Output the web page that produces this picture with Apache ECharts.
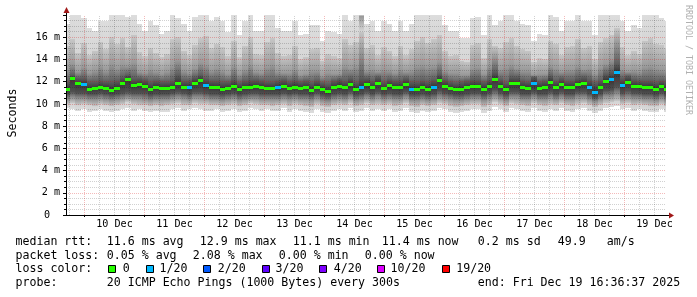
<!DOCTYPE html>
<html><head><meta charset="utf-8">
<script src="https://cdn.jsdelivr.net/npm/echarts@6/dist/echarts.min.js"></script>
<style>html,body{margin:0;padding:0;background:#fff}#c{width:697px;height:297px}</style>
</head><body><div id="c"></div>
<script>
// ---- time axis (hours since Dec 9 00:00) ----
const startHour = 16.61;          // Fri Dec 9 16:36:37
const endHour = 256.61;           // Fri Dec 19 16:36:37
const firstSampleHour = 17.05;
const stepHours = 2.2222;
const dayHours = [24, 48, 72, 96, 120, 144, 168, 192, 216, 240];
const dayLabelHours = [36, 60, 84, 108, 132, 156, 180, 204, 228, 252];
const dayLabels = ['10 Dec','11 Dec','12 Dec','13 Dec','14 Dec','15 Dec','16 Dec','17 Dec','18 Dec','19 Dec'];
const yMax = 18;

// ---- median rtt (ms) ----
const median = [11.35,12.3,11.85,11.8,11.35,11.4,11.5,11.45,11.25,11.45,
11.85,12.2,11.7,11.8,11.65,11.3,11.55,11.4,11.45,11.55,
11.9,11.55,11.5,11.9,12.15,11.7,11.55,11.5,11.35,11.4,
11.6,11.3,11.5,11.55,11.6,11.55,11.45,11.4,11.5,11.6,
11.45,11.55,11.45,11.5,11.25,11.55,11.35,11.15,11.5,11.65,
11.5,11.8,11.35,11.55,11.8,11.5,11.9,11.4,11.7,11.55,
11.5,11.8,11.3,11.35,11.55,11.35,11.55,12.15,11.65,11.4,
11.3,11.35,11.5,11.6,11.6,11.35,11.65,12.25,11.65,11.3,
11.9,11.85,11.5,11.45,11.9,11.45,11.55,12.0,11.55,11.8,
11.55,11.55,11.8,11.85,11.55,11.1,11.5,12.1,12.2,12.9,
11.7,12.0,11.65,11.6,11.5,11.55,11.35,11.6,11.35];
// ---- lost pings out of 20 ----
const loss = [0,0,0,1,0,0,0,0,0,0, 0,0,0,0,0,0,0,0,0,0, 0,0,1,0,0,1,0,0,0,0,
0,0,0,0,0,0,0,0,1,0, 0,0,0,0,0,0,0,0,0,0, 0,0,0,1,0,0,0,0,0,0,
0,0,1,0,0,0,1,0,0,0, 0,0,0,0,0,0,0,0,0,0, 0,0,0,0,1,0,0,0,0,0,
0,0,0,0,1,1,0,0,1,1, 1,0,0,0,0,0,0,0,0];
// ---- smoke: ping distribution edges (ms) ----
const maxRtt = [17.2,18,18,17.7,16.8,16.6,17.5,17.5,18,18,
18,17.8,18,17.2,16.6,17.5,17.1,16.3,16.6,18,
17.7,17.2,16.6,17.8,18,18,17.5,17.8,17.5,16.5,
18,16.2,17.5,18,16.6,16.6,18,18,16.8,16.6,
16.6,17.5,16.2,16.3,17.1,17.1,15.7,16.6,16.5,16.3,
18,17.5,18,18,17.2,17.5,16.6,17.5,17.2,16.6,
17.5,16.6,17.2,18,18,18,18,18,17.1,16.6,
16.6,15.9,15.9,17.7,17.8,16.2,18,17.1,17.5,18,
18,17.5,17.2,17.1,15.7,16.3,16.2,18,17.8,16.6,
17.5,17.5,18,17.5,17.5,16.2,18,18,18,18,
17.5,16.6,17.1,16.8,18,18,18,17.7,17.5];
const hi2 = [15.2,15.8,14.6,15.5,14.4,14.8,15.6,14.9,16.0,15.4,
15.9,15.1,16.2,14.7,14.3,15.0,14.6,14.2,14.5,15.8,
16.0,14.8,14.4,15.3,15.9,16.1,15.0,15.4,15.1,14.3,
15.7,14.2,15.2,16.0,14.5,14.4,15.6,15.9,14.6,14.3,
14.4,15.2,14.0,14.2,14.9,15.0,13.9,14.5,14.3,14.1,
15.8,15.3,15.6,16.5,15.0,15.3,14.4,15.1,14.8,14.3,
15.2,14.4,14.9,15.7,16.0,15.5,15.8,16.2,14.8,14.3,
14.4,13.9,13.8,15.3,15.5,14.1,15.8,15.2,15.0,15.6,
15.9,15.2,14.9,14.8,13.8,14.1,14.0,15.7,15.4,14.4,
15.1,15.2,15.8,15.0,15.2,14.0,15.6,15.9,16.2,16.8,
15.1,14.4,14.8,14.5,15.7,15.9,15.4,15.3,15.0];
const hi3 = [13.1,13.6,12.9,13.3,12.8,13.0,13.4,13.0,13.6,13.2,
13.5,13.4,13.7,12.9,12.8,13.1,12.9,12.7,12.9,13.4,
13.9,13.0,12.8,13.2,13.7,13.5,13.0,13.2,13.0,12.7,
13.4,12.7,13.1,13.5,12.9,12.8,13.3,13.5,12.9,12.8,
12.8,13.1,12.6,12.7,13.0,13.0,12.5,12.8,12.7,12.7,
13.4,13.2,13.4,17.9,13.0,13.1,12.9,13.1,13.0,12.8,
13.1,12.9,13.0,13.4,13.5,13.3,13.4,13.8,13.0,12.8,
12.8,12.6,12.6,13.2,13.3,12.7,13.4,14.2,13.1,13.3,
13.5,13.2,13.0,13.0,12.6,12.7,12.7,13.4,13.2,12.9,
13.1,13.1,13.4,13.1,13.2,12.7,13.3,13.6,14.0,15.5,
13.1,12.9,13.0,12.9,13.3,13.4,13.2,13.1,13.0];
const hi4 = [12.0,12.6,12.3,12.3,12.0,12.0,12.1,12.0,12.0,12.1,
12.4,12.6,12.3,12.3,12.2,12.0,12.1,12.0,12.0,12.1,
12.6,12.1,12.1,12.4,12.6,12.3,12.1,12.1,12.0,12.0,
12.2,11.9,12.1,12.2,12.2,12.1,12.0,12.0,12.1,12.2,
12.0,12.1,12.0,12.1,11.9,12.1,11.9,11.8,12.1,12.2,
12.1,12.3,12.0,12.4,12.3,12.1,12.4,12.0,12.2,12.1,
12.1,12.3,12.0,12.0,12.1,12.0,12.2,12.7,12.2,12.0,
11.9,12.0,12.1,12.2,12.2,12.0,12.2,12.9,12.2,11.9,
12.4,12.4,12.1,12.0,12.4,12.0,12.1,12.5,12.1,12.3,
12.1,12.1,12.3,12.4,12.2,11.9,12.1,12.7,12.9,13.6,
12.3,12.5,12.2,12.1,12.1,12.1,12.0,12.1,12.0];
const lo4 = [10.9,11.1,11.0,11.0,10.9,10.9,11.0,10.9,10.8,10.9,
11.0,11.1,11.0,11.0,11.0,10.8,10.9,10.9,10.9,11.0,
11.1,11.0,10.9,11.1,11.1,11.0,10.9,10.9,10.8,10.9,
11.0,10.8,10.9,11.0,11.0,10.9,10.9,10.9,10.9,11.0,
10.9,11.0,10.9,10.9,10.8,11.0,10.8,10.7,10.9,11.0,
10.9,11.1,10.8,10.9,11.1,10.9,11.1,10.9,11.0,10.9,
10.9,11.1,10.8,10.8,10.9,10.8,10.9,11.2,11.0,10.9,
10.8,10.8,10.9,11.0,11.0,10.8,11.0,11.3,11.0,10.8,
11.1,11.1,10.9,10.9,11.1,10.9,10.9,11.1,10.9,11.1,
10.9,10.9,11.1,11.1,10.9,10.6,10.9,11.2,11.3,11.6,
11.0,11.2,11.0,11.0,10.9,10.9,10.8,11.0,10.8];
const lo3 = [10.4,10.6,10.5,10.5,10.4,10.4,10.5,10.4,10.3,10.4,
10.5,10.6,10.5,10.5,10.4,10.3,10.4,10.4,10.4,10.5,
10.6,10.5,10.4,10.6,10.6,10.5,10.4,10.4,10.3,10.4,
10.5,10.3,10.4,10.5,10.5,10.4,10.4,10.4,10.4,10.5,
10.4,10.5,10.4,10.4,10.3,10.5,10.3,10.2,10.4,10.5,
10.4,10.6,10.3,10.4,10.6,10.4,10.6,10.4,10.5,10.4,
10.4,10.6,10.3,10.3,10.4,10.3,10.4,10.6,10.5,10.4,
10.3,10.3,10.4,10.5,10.5,10.3,10.5,10.7,10.5,10.3,
10.6,10.6,10.4,10.4,10.6,10.4,10.4,10.6,10.4,10.6,
10.4,10.4,10.6,10.6,10.4,10.2,10.4,10.7,10.7,10.9,
10.5,10.6,10.5,10.5,10.4,10.4,10.3,10.5,10.3];
const lo2 = [10.0,10.1,9.9,10.0,9.9,9.8,10.0,9.9,9.8,9.9,
10.0,10.2,10.0,9.9,9.9,9.8,9.9,9.8,9.9,10.0,
10.1,9.9,9.9,10.1,10.0,10.0,9.9,9.9,9.8,9.9,
10.0,9.8,9.9,10.1,10.0,9.9,9.9,9.8,9.9,10.0,
9.8,10.0,9.9,9.8,9.7,10.0,9.8,9.7,9.9,10.0,
9.9,10.1,9.8,9.9,10.1,9.9,10.0,9.9,10.0,9.8,
9.9,10.1,9.8,9.7,9.9,9.8,9.9,10.1,10.0,9.8,
9.7,9.8,9.9,10.0,10.0,9.7,9.9,10.2,10.0,9.8,
10.1,10.0,9.9,9.8,10.1,9.9,9.8,10.0,9.9,10.1,
9.9,9.8,10.0,10.1,9.9,9.7,9.9,10.1,10.2,10.3,
10.0,10.1,9.9,10.0,9.9,9.8,9.8,10.0,9.8];
const minRtt = [9.6,9.5,9.4,9.5,9.3,9.4,9.5,9.4,9.3,9.4,
9.5,9.6,9.4,9.5,9.4,9.3,9.4,9.3,9.3,9.5,
9.6,9.4,9.5,9.6,9.5,9.4,9.4,9.5,9.3,9.4,
9.5,9.3,9.4,9.6,9.5,9.4,9.5,9.4,9.4,9.6,
9.3,9.5,9.4,9.3,9.2,9.5,9.3,9.2,9.4,9.5,
9.4,9.6,9.3,9.4,9.6,9.4,9.5,9.4,9.5,9.3,
9.4,9.6,9.3,9.2,9.4,9.3,9.4,9.6,9.5,9.3,
9.2,9.3,9.4,9.5,9.5,9.2,9.4,9.7,9.5,9.3,
9.6,9.5,9.4,9.3,9.6,9.4,9.3,9.5,9.4,9.6,
9.4,9.3,9.5,9.6,9.4,9.2,9.4,9.6,9.7,9.8,
9.5,9.6,9.4,9.5,9.4,9.3,9.3,9.5,9.3];

// ---- loss colour legend ----
const lossLevels = [0, 1, 2, 3, 4, 10, 19];
const lossLabels = ['0', '1/20', '2/20', '3/20', '4/20', '10/20', '19/20'];
const lossColors = ['#26ff00', '#00b8ff', '#0059ff', '#5e00ff', '#7e00ff', '#dd00ff', '#ff0000'];

// ---- legend texts ----
const rttStats = ['11.6 ms avg', '12.9 ms max', '11.1 ms min', '11.4 ms now', '0.2 ms sd', '49.9', 'am/s'];
const lossStats = ['0.05 % avg', '2.08 % max', '0.00 % min', '0.00 % now'];
const probeText = '20 ICMP Echo Pings (1000 Bytes) every 300s';
const endText = 'end: Fri Dec 19 16:36:37 2025';

const MONO = '"DejaVu Sans Mono", monospace';
const MAJOR_GRID = 'rgba(215,0,0,0.27)';
const MINOR_GRID = 'rgba(0,0,0,0.18)';

function lossColor(n) {
  let c = lossColors[0];
  for (let k = 0; k < lossLevels.length; k++) if (n >= lossLevels[k]) c = lossColors[k];
  return c;
}

const rows = median.map((m, i) => {
  const c = firstSampleHour + i * stepHours;
  return [c - stepHours / 2, c + stepHours / 2, minRtt[i], lo2[i], lo3[i], lo4[i], hi4[i], hi3[i], hi2[i], maxRtt[i], m, loss[i]];
});

const vGrid = [];
for (let h = 18; h < endHour; h += 6) vGrid.push([h, h % 24 === 0 ? 1 : 0]);

// smoke: one column per sample, shaded from the outer (light) to inner (dark) ping ranks
function renderSmoke(params, api) {
  const t0 = api.value(0), t1 = api.value(1);
  const xa = Math.round(api.coord([t0, 0])[0]);
  const xb = Math.round(api.coord([t1, 0])[0]);
  const Y = d => api.coord([t0, api.value(d)])[1];
  const yTop = Math.round(Y(9)), yBot = Math.round(Y(2));
  const h = Math.max(1, yBot - yTop);
  const off = d => Math.min(1, Math.max(0, (Y(d) - yTop) / h));
  const stops = [
    [0, '#dddddd'], [off(8), '#d6d6d6'], [off(8), '#c6c6c6'],
    [off(7), '#999999'], [off(6), '#5e5e5e'], [off(10), '#363636'],
    [off(5), '#505050'], [off(4), '#8e8e8e'], [off(3), '#c4c4c4'],
    [off(3), '#d2d2d2'], [1, '#dddddd']
  ].sort((a, b) => a[0] - b[0]).map(s => ({ offset: s[0], color: s[1] }));
  return { type: 'rect', shape: { x: xa, y: yTop, width: xb - xa, height: h },
    style: { fill: { type: 'linear', x: 0, y: 0, x2: 0, y2: 1, colorStops: stops, global: false } } };
}
function renderMedian(params, api) {
  const t0 = api.value(0), t1 = api.value(1);
  const xa = Math.round(api.coord([t0, 0])[0]);
  const xb = Math.round(api.coord([t1, 0])[0]);
  const y = Math.round(api.coord([t0, api.value(10)])[1]);
  return { type: 'rect', shape: { x: xa, y: y - 1, width: xb - xa, height: 3 }, style: { fill: lossColor(api.value(11)) } };
}
function renderVGrid(params, api) {
  const h = api.value(0);
  const p0 = api.coord([h, 0]), p1 = api.coord([h, yMax]);
  const x = Math.floor(p0[0]) + 0.5;
  const major = api.value(1) === 1;
  return { type: 'line', shape: { x1: x, y1: Math.round(p0[1]), x2: x, y2: Math.round(p1[1]) },
    style: { stroke: major ? MAJOR_GRID : MINOR_GRID, lineWidth: 1, lineDash: [1, 1] } };
}

const chart = echarts.init(document.getElementById('c'), null, { renderer: 'canvas', width: 697, height: 297 });
chart.setOption({
  animation: false,
  backgroundColor: '#ffffff',
  grid: { left: 66, right: 31, top: 15, bottom: 82, containLabel: false, outerBoundsMode: 'none' },
  xAxis: {
    type: 'value', min: startHour, max: endHour, z: 3,
    axisLine: { show: true, onZero: false, lineStyle: { color: '#000', width: 1 } },
    axisTick: { show: true, customValues: dayHours, length: 2, lineStyle: { color: '#000' } },
    axisLabel: { customValues: dayLabelHours, margin: 4, color: '#000', fontFamily: MONO, fontSize: 10.15,
      formatter: v => dayLabels[dayLabelHours.indexOf(v)] || '' },
    splitLine: { show: false }
  },
  yAxis: {
    type: 'value', min: 0, max: yMax, interval: 2, z: 3,
    name: 'Seconds', nameLocation: 'middle', nameGap: 47, nameRotate: 90,
    nameTextStyle: { fontFamily: MONO, fontSize: 11.6, color: '#000', padding: [0, 0, 0, 4] },
    axisLine: { show: true, lineStyle: { color: '#000', width: 1 } },
    axisTick: { show: true, length: 3, lineStyle: { color: '#000' } },
    minorTick: { show: true, splitNumber: 4, length: 2, lineStyle: { color: '#000' } },
    splitLine: { show: true, showMaxLine: false, showMinLine: false, lineStyle: { color: MAJOR_GRID, type: [1, 1], width: 1 } },
    minorSplitLine: { show: true, lineStyle: { color: MINOR_GRID, type: [1, 1], width: 1 } },
    axisLabel: { margin: 6, color: '#000', fontFamily: MONO, fontSize: 10.15, showMaxLabel: false,
      formatter: v => v === 0 ? '{z|0}' : v + ' m',
      rich: { z: { padding: [0, 10, 0, 0], fontFamily: MONO, fontSize: 10.15, color: '#000' } } }
  },
  series: [
    { type: 'custom', name: 'smoke', z: 1, clip: true, silent: true, data: rows, encode: { x: [0, 1], y: [2, 9] }, renderItem: renderSmoke },
    { type: 'custom', name: 'vgrid', z: 3, clip: true, silent: true, data: vGrid, encode: { x: 0 }, renderItem: renderVGrid },
    { type: 'custom', name: 'median', z: 4, clip: true, silent: true, data: rows, encode: { x: [0, 1], y: 10 }, renderItem: renderMedian }
  ]
});

// ---- decorations: axis extensions / arrows, legend, watermark ----
const o = chart.convertToPixel({ gridIndex: 0 }, [startHour, 0]);
const tl = chart.convertToPixel({ gridIndex: 0 }, [startHour, yMax]);
const br = chart.convertToPixel({ gridIndex: 0 }, [endHour, 0]);
const ax = Math.round(o[0]) + 0.5, ay = Math.round(o[1]) + 0.5;
const ARROW = '#a01818';
const g = [
  { type: 'line', silent: true, z: 10, shape: { x1: ax, y1: tl[1], x2: ax, y2: tl[1] - 5 }, style: { stroke: '#000', lineWidth: 1 } },
  { type: 'line', silent: true, z: 10, shape: { x1: br[0], y1: ay, x2: br[0] + 4, y2: ay }, style: { stroke: '#000', lineWidth: 1 } },
  { type: 'polygon', silent: true, z: 11, shape: { points: [[ax - 3, tl[1] - 2], [ax + 3, tl[1] - 2], [ax, tl[1] - 8]] }, style: { fill: ARROW } },
  { type: 'polygon', silent: true, z: 11, shape: { points: [[br[0] + 3, ay - 3], [br[0] + 3, ay + 3], [br[0] + 8, ay]] }, style: { fill: ARROW } }
];
function txt(x, y, s, size, fill) {
  g.push({ type: 'text', silent: true, x: x, y: y,
    style: { text: s, font: size + 'px ' + MONO, fill: fill || '#000', align: 'left', verticalAlign: 'middle' } });
}
const L = 11.6;
const y1 = 241.5, y2 = 255.5, y3 = 269, y4 = 283;
txt(15.5, y1, 'median rtt:', L);
[106.8, 199.8, 292.8, 381.8, 477.8, 557.8, 606.8].forEach((x, k) => txt(x, y1, rttStats[k], L));
txt(15.5, y2, 'packet loss:', L);
[106.8, 192.8, 278.8, 364.8].forEach((x, k) => txt(x, y2, lossStats[k], L));
txt(15.5, y3, 'loss color:', L);
const boxX = [108, 145.5, 203, 261.5, 319, 376.5, 441.5];
const labX = [122.8, 159.5, 217.8, 275.5, 333.8, 390.5, 456.2];
lossColors.forEach((c, k) => {
  g.push({ type: 'rect', silent: true, shape: { x: Math.round(boxX[k]) + 0.5, y: 265.5, width: 7, height: 7 },
    style: { fill: c, stroke: '#000', lineWidth: 1 } });
  txt(labX[k], y3, lossLabels[k], L);
});
txt(15.5, y4, 'probe:', L);
txt(106.8, y4, probeText, L);
txt(477.8, y4, endText, L);
g.push({ type: 'text', silent: true, x: 688, y: 5, rotation: -Math.PI / 2,
  style: { text: 'RRDTOOL / TOBI OETIKER', font: '8.3px ' + MONO, fill: '#b0b0b0', align: 'left', verticalAlign: 'middle' } });
chart.setOption({ graphic: g });
</script></body></html>
